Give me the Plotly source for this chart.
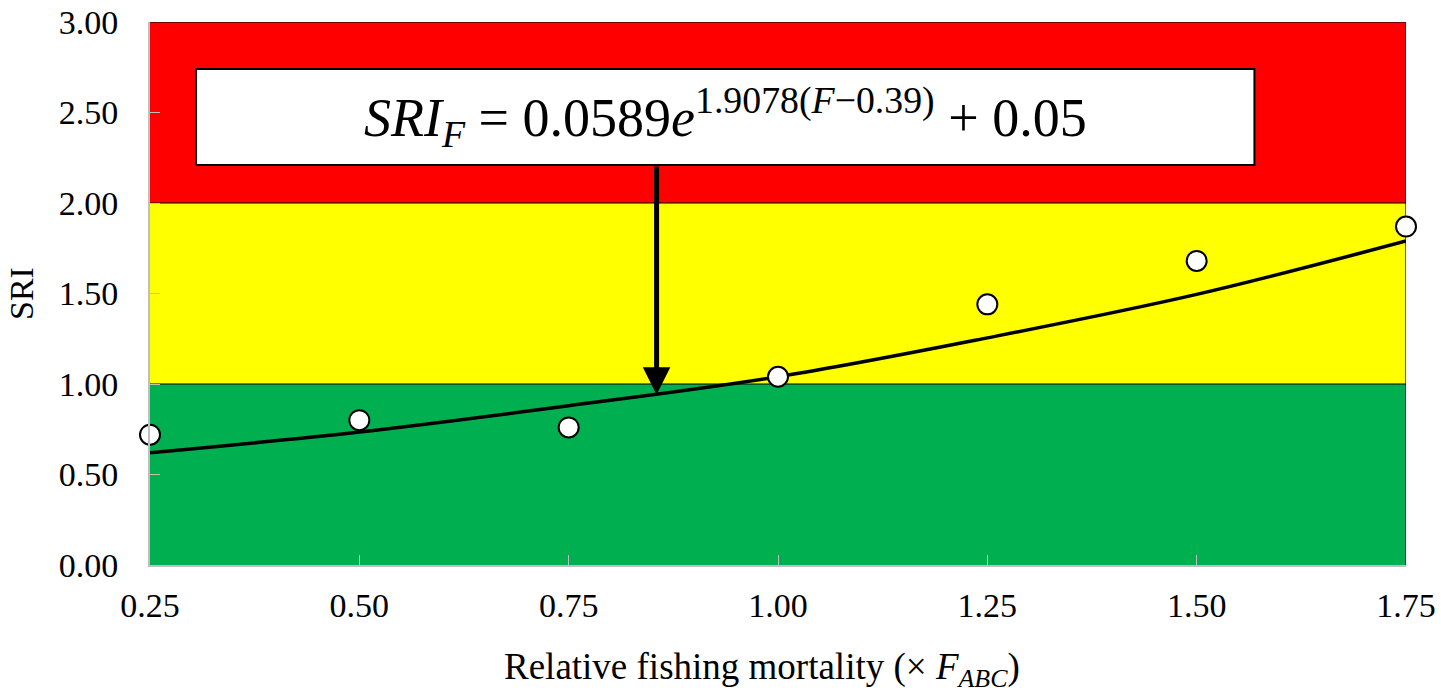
import plotly.graph_objects as go

# Data
f_values = [0.25, 0.50, 0.75, 1.00, 1.25, 1.50, 1.75]
sri_observed = [0.72, 0.80, 0.76, 1.04, 1.44, 1.68, 1.87]
sri_fitted = [0.62, 0.735, 0.88, 1.04, 1.255, 1.495, 1.79]
band_edges = [0, 1, 2, 3]
band_colors = ["#00B050", "#FFFF00", "#FF0000"]
x_ticks = [0.25, 0.50, 0.75, 1.00, 1.25, 1.50, 1.75]
y_ticks = [0, 0.5, 1.0, 1.5, 2.0, 2.5, 3.0]
arrow_x = 0.855
arrow_tip_y = 0.94
box_x = [0.305, 1.569]
box_y = [2.21, 2.74]

font_family = "Liberation Serif, Times New Roman, serif"

fig = go.Figure()

shapes = []
for i, col in enumerate(band_colors):
    shapes.append(dict(type="rect", xref="x", yref="y", x0=0.25, x1=1.75,
                       y0=band_edges[i], y1=band_edges[i + 1],
                       fillcolor=col, line=dict(width=0), layer="below"))
for e in band_edges[1:]:
    shapes.append(dict(type="line", xref="x", yref="y", x0=0.25, x1=1.75,
                       y0=e, y1=e, line=dict(color="black", width=1.2), layer="below"))
shapes.append(dict(type="line", xref="x", yref="y", x0=1.75, x1=1.75, y0=0, y1=3,
                   line=dict(color="black", width=1.2), layer="below"))
shapes.append(dict(type="rect", xref="x", yref="y", x0=box_x[0], x1=box_x[1],
                   y0=box_y[0], y1=box_y[1], fillcolor="white",
                   line=dict(color="black", width=2), layer="above"))

fig.add_trace(go.Scatter(x=f_values, y=sri_fitted, mode="lines",
                         line=dict(color="black", width=3.5, shape="spline"),
                         showlegend=False, hoverinfo="skip"))
fig.add_trace(go.Scatter(x=f_values, y=sri_observed, mode="markers",
                         marker=dict(size=20, color="white", line=dict(color="black", width=2)),
                         cliponaxis=False, showlegend=False))

annotations = [
    dict(x=arrow_x, y=arrow_tip_y, xref="x", yref="y",
         ax=arrow_x, ay=box_y[0], axref="x", ayref="y",
         showarrow=True, arrowhead=2, arrowsize=1.1, arrowwidth=5,
         arrowcolor="black", text=""),
    dict(x=(box_x[0] + box_x[1]) / 2, y=(box_y[0] + box_y[1]) / 2, xref="x", yref="y",
         showarrow=False,
         text="<i>SRI<sub>F</sub></i> = 0.0589<i>e</i><sup>1.9078(<i>F</i>−0.39)</sup> + 0.05",
         font=dict(family="Liberation Serif, serif", size=54, color="black")),
    dict(x=0.487, y=-0.192, xref="paper", yref="paper", xanchor="center", yanchor="middle",
         showarrow=False,
         text="Relative fishing mortality (× <i>F<sub>ABC</sub></i>)",
         font=dict(family=font_family, size=37, color="black")),
]

fig.update_layout(
    width=1441, height=696,
    margin=dict(l=150, r=35, t=22, b=131),
    paper_bgcolor="white", plot_bgcolor="white",
    shapes=shapes, annotations=annotations,
    font=dict(family=font_family, size=34, color="black"),
    xaxis=dict(range=[0.25, 1.75], tickvals=x_ticks,
               ticktext=[f"{v:.2f}" for v in x_ticks],
               showgrid=False, zeroline=False, showline=True, linecolor="#BFBFBF",
               linewidth=2, ticks="inside", ticklen=10, tickcolor="#BFBFBF",
               ticklabelstandoff=9, ticklabeloverflow="allow", automargin=False,
               tickfont=dict(family=font_family, size=34)),
    yaxis=dict(range=[0, 3], tickvals=y_ticks,
               ticktext=[f"{v:.2f}" for v in y_ticks],
               showgrid=False, zeroline=False, showline=True, linecolor="#BFBFBF",
               linewidth=2, ticks="inside", ticklen=10, tickcolor="#BFBFBF",
               ticklabelstandoff=23, ticklabeloverflow="allow", automargin=False,
               tickfont=dict(family=font_family, size=34),
               title=dict(text="SRI", font=dict(family=font_family, size=34), standoff=15)),
)

fig.write_html("out.html", config={"displayModeBar": False},
               post_script="document.body.style.margin='0';document.body.style.overflow='hidden';")
